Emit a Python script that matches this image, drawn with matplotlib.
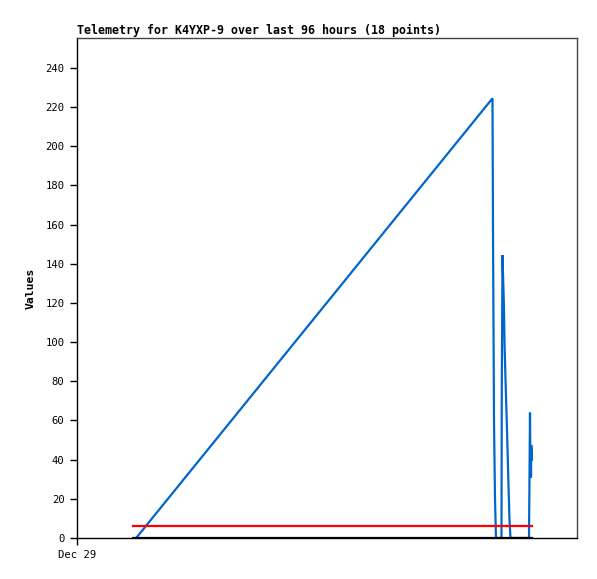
import numpy as np
import matplotlib
matplotlib.use("Agg")
from matplotlib import pyplot as plt

# hours since Dec 29 00:00
hours = [11.2, 83.1, 83.2, 83.4, 83.6, 83.8, 84.9, 84.95, 85.1, 85.2, 85.4,
         85.5, 85.7, 85.9, 86.1, 86.3, 86.5, 86.7, 90.4, 90.45, 90.6, 90.7,
         90.75, 90.8, 90.85, 91.0]
values = [-2, 224.5, 157, 60, 20, 0, 0, 72, 144.5, 135, 117,
          99.6, 81, 64, 46, 27, 9, 0, 0, 16, 64, 31,
          47.5, 31, 47.5, 40]
span = [11.2, 91.0]
red_level = 6
black_level = 0
yticks = list(range(0, 241, 20))
xtick_labels = ["Dec 29"]

plt.rcParams['font.family'] = ['DejaVu Sans Mono']

fig = plt.figure(figsize=(5.97, 5.79), dpi=100)
ax = fig.add_axes([77/597, 41/579, 500/597, 500/579])

ax.plot(hours, values, color='#0066cc', lw=1.6, solid_joinstyle='miter')
ax.plot(span, [red_level, red_level], color='#ff0000', lw=1.6)
ax.plot(span, [black_level, black_level], color='black', lw=1.6)

ax.set_xlim(0, 100)
ax.set_ylim(0, 255.3)
ax.set_yticks(yticks)
ax.set_xticks([0])
ax.set_xticklabels(xtick_labels)
ax.tick_params(direction='out', length=5, width=1, labelsize=7.6, pad=4)
ax.set_ylabel("Values", fontsize=8.2, fontweight='bold', labelpad=7)
ax.set_title("Telemetry for K4YXP-9 over last 96 hours (18 points)",
             loc='left', fontsize=8.4, fontweight='bold', pad=3)

for s in ['top', 'right']:
    ax.spines[s].set_color('#444444')
for s in ax.spines.values():
    s.set_linewidth(1)

fig.savefig("out.png", dpi=100)
